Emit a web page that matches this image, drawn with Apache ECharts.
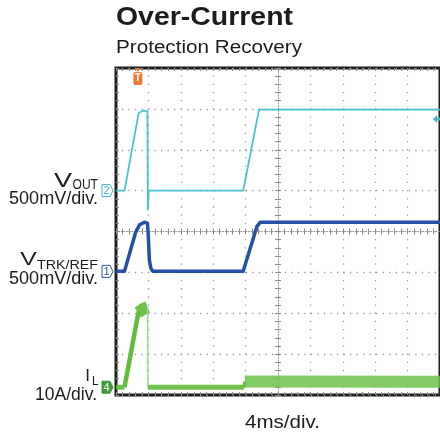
<!DOCTYPE html>
<html><head><meta charset="utf-8">
<script src="https://cdn.jsdelivr.net/npm/echarts@6/dist/echarts.min.js"></script>
<style>html,body{margin:0;padding:0;background:#fff}#c{width:440px;height:438px}</style>
</head><body><div id="c"></div>
<script>
// ---- Data (time in ms, 4 ms/div; screen spans -20..20 ms) ----
const timeRange = [-20, 20];
const timePerDiv = 4;
const triggerMs = -17.3;
const vOutTriggerLevel = 0.875; // V

// VOUT trace [ms, V] (500 mV/div)
const vOut = [[-20,0],[-18.95,0],[-17.2,0.95],[-16.6,0.98],[-16.12,0.97],[-16.06,-0.235],[-15.95,0],[-4.3,0],[-2.34,0.99],[20,0.99]];
// VTRK/REF trace [ms, V] (500 mV/div)
const vTrk = [[-20,0],[-18.95,0],[-17.6,0.47],[-17.1,0.57],[-16.5,0.6],[-16.12,0.59],[-16.02,0.45],[-15.88,0.14],[-15.7,0.04],[-15.45,0],[-4.3,0],[-2.6,0.55],[-2.2,0.6],[20,0.6]];
// IL trace [ms, A] (10 A/div)
const ilStart = [[-20,0],[-18.95,0]];
const ilRamp = [[-18.95,0],[-17.2,18.6]];
const ilPeak = [[-17.3,18.3],[-16.6,19.2],[-16.1,19.6]];
const ilDrop = [[-16.1,19.6],[-16.06,0]];
const ilOff = [[-16.06,0],[-4.2,0]];
const ilStep = [[-4.2,0],[-4.1,1.4]];
const ilOn = [[-4.1,1.4],[20,1.35]];

// channel zero positions (divisions from centre) and scale per div
const chVout = {zero: 1.0, perDiv: 0.5};
const chVtrk = {zero: -0.975, perDiv: 0.5};
const chIL = {zero: -3.81, perDiv: 10};

const toDiv = (arr, ch) => arr.map(p => [p[0], ch.zero + p[1] / ch.perDiv]);

const FONT = "'Liberation Sans', Arial, Helvetica, sans-serif";
const chart = echarts.init(document.getElementById('c'), null, {renderer: 'canvas'});

const GRID = '#9a9a9a';
const tickStyle = {color: '#8a8a8a', width: 1};
function tickAxis(dim, position, onZero) {
  return {
    type: 'value', min: dim === 'x' ? timeRange[0] : -4, max: dim === 'x' ? timeRange[1] : 4,
    interval: dim === 'x' ? timePerDiv : 1, position: position,
    axisLine: {show: false, onZero: onZero, onZeroAxisIndex: 0},
    axisTick: {show: true, inside: true, length: 3, lineStyle: tickStyle},
    minorTick: {show: true, splitNumber: 5, length: 3, lineStyle: tickStyle},
    axisLabel: {show: false}, splitLine: {show: false}
  };
}

const xMain = {
  type: 'value', min: timeRange[0], max: timeRange[1], interval: timePerDiv, position: 'bottom',
  axisLine: {show: true, onZero: true, lineStyle: {color: GRID, width: 1, type: [1, 1.6]}},
  axisTick: {show: true, inside: true, length: 3, lineStyle: tickStyle},
  minorTick: {show: true, splitNumber: 5, length: 3, lineStyle: tickStyle},
  axisLabel: {show: false},
  splitLine: {show: true, lineStyle: {color: GRID, width: 1.3, type: [1.3, 6.875], dashOffset: 0.65}}
};
const yMain = {
  type: 'value', min: -4, max: 4, interval: 1, position: 'left',
  axisLine: {show: true, onZero: true, lineStyle: {color: GRID, width: 1, type: [1, 1.6]}},
  axisTick: {show: true, inside: true, length: 3, lineStyle: tickStyle},
  minorTick: {show: true, splitNumber: 5, length: 3, lineStyle: tickStyle},
  axisLabel: {show: false},
  splitLine: {show: true, lineStyle: {color: GRID, width: 1.3, type: [1.3, 5.22], dashOffset: 0.65}}
};

const CYAN = '#4cc2cf', BLUE = '#2450a8', GREEN = '#62bd3d';
function line(data, color, width, z, opacity) {
  return {type: 'line', data: data, symbol: 'none', silent: true, z: z || 2,
    lineStyle: {color: color, width: width, opacity: opacity == null ? 1 : opacity, cap: 'butt', join: 'round'}};
}

chart.setOption({
  animation: false,
  grid: {left: 116, top: 68, width: 326, height: 327, show: true, borderColor: '#1e1e1e', borderWidth: 3, backgroundColor: 'transparent'},
  xAxis: [xMain, tickAxis('x', 'top', true), tickAxis('x', 'bottom', false), tickAxis('x', 'top', false)],
  yAxis: [yMain, tickAxis('y', 'right', true), tickAxis('y', 'left', false)],
  series: [
    line(toDiv(ilStart, chIL), GREEN, 5, 3, 0.9),
    line(toDiv(ilRamp, chIL), GREEN, 4.5, 3),
    line(toDiv(ilPeak, chIL), GREEN, 12, 3, 0.92),
    line(toDiv(ilDrop, chIL), '#9ed88a', 1.5, 3),
    line(toDiv(ilOff, chIL), GREEN, 5, 3, 0.9),
    line(toDiv(ilStep, chIL), GREEN, 3, 3),
    line(toDiv(ilOn, chIL), '#6cc24a', 12, 3, 0.85),
    line(toDiv(vTrk, chVtrk), BLUE, 3.5, 4),
    line(toDiv(vOut, chVout), CYAN, 1.8, 5)
  ]
});

// ---- annotations ----
const px = v => chart.convertToPixel({xAxisIndex: 0}, v);
const py = v => chart.convertToPixel({yAxisIndex: 0}, v);
const mctx = document.createElement('canvas').getContext('2d');
function txt(str, x, y, size, o) {
  o = o || {};
  const font = (o.bold ? 'bold ' : '') + size + 'px ' + FONT;
  let sx = 1;
  if (o.w) { mctx.font = font; sx = o.w / mctx.measureText(str).width; }
  const al = o.align || 'left';
  return {type: 'text', x: x, y: y, scaleX: sx, silent: true, z: 10,
    style: {text: str, x: 0, y: 0, font: font, fill: '#1c1c1c', align: al, verticalAlign: 'middle', textAlign: al, textVerticalAlign: 'middle'}};
}
function chMarker(yDiv, color, digit, filled) {
  const y = py(yDiv), x0 = 102;
  return {type: 'group', silent: true, z: 10, children: [
    {type: 'polygon', shape: {points: [[x0, y - 6], [x0 + 8, y - 6], [x0 + 11, y], [x0 + 8, y + 6], [x0, y + 6]]},
      style: {fill: filled ? color : '#fff', stroke: color, lineWidth: 1}},
    {type: 'text', style: {text: digit, x: x0 + 4.5, y: y + 0.5, font: '11px ' + FONT, fill: filled ? '#fff' : color,
      align: 'center', verticalAlign: 'middle', textAlign: 'center', textVerticalAlign: 'middle'}}
  ]};
}
const tx = px(triggerMs);
const ty = py(chVout.zero + vOutTriggerLevel / chVout.perDiv);
chart.setOption({graphic: [
  txt('Over-Current', 116, 17.5, 26, {bold: true, w: 177}),
  txt('Protection Recovery', 116, 48, 17.5, {w: 186}),
  txt('V', 72, 181, 21, {align: 'right', w: 18}),
  txt('OUT', 72.5, 185.5, 14, {w: 25.5}),
  txt('500mV/div.', 98, 199.5, 17.5, {align: 'right', w: 89}),
  txt('V', 36.7, 260, 19, {align: 'right', w: 16.5}),
  txt('TRK/REF', 37, 265.5, 13.5, {w: 61}),
  txt('500mV/div.', 98, 279, 17.5, {align: 'right', w: 89}),
  txt('I', 90, 376.5, 17, {align: 'right'}),
  txt('L', 92, 381.5, 13, {w: 6.5}),
  txt('10A/div.', 97, 395.5, 17.5, {align: 'right', w: 62}),
  txt('4ms/div.', 245, 423.3, 18.5, {w: 75}),
  chMarker(chVout.zero, '#3fb4c2', '2', false),
  chMarker(chVtrk.zero, '#2c4f9e', '1', false),
  chMarker(chIL.zero, '#3d9a3a', '4', true),
  {type: 'group', silent: true, z: 10, children: [
    {type: 'polygon', shape: {points: [[tx - 3, 68], [tx + 3, 68], [tx, 72]]}, style: {fill: '#ec7a34'}},
    {type: 'rect', shape: {x: tx - 4.5, y: 72, width: 9, height: 13, r: 2}, style: {fill: '#ec7a34'}},
    {type: 'text', style: {text: 'T', x: tx, y: 78.5, font: 'bold 10px ' + FONT, fill: '#fff', align: 'center', verticalAlign: 'middle', textAlign: 'center', textVerticalAlign: 'middle'}}
  ]},
  {type: 'polygon', silent: true, z: 10, shape: {points: [[433, ty], [437, ty - 4], [437, ty - 1.3], [440, ty - 1.3], [440, ty + 1.3], [437, ty + 1.3], [437, ty + 4]]}, style: {fill: '#3fb4c2'}}
]});
</script>
</body></html>
